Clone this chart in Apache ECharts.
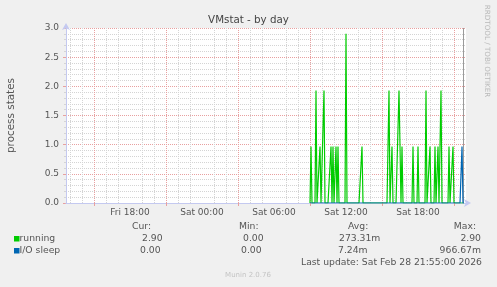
<!DOCTYPE html>
<html><head><meta charset="utf-8">
<script src="https://cdn.jsdelivr.net/npm/echarts@6/dist/echarts.min.js"></script>
<style>html,body{margin:0;padding:0;background:#f0f0f0}#c{width:497px;height:287px}</style>
</head><body><div id="c"></div>
<script>
// ---- data (hours counted from Fri 00:00) ----
const seriesNames = ['running', 'I/O sleep'];
const seriesColors = ['#00cc00', '#0066b3'];
const startHour = 33;          // first sample: Sat 09:00
const stepHours = 5 / 60;      // 5-minute samples
const running = [
  0, 0.97, 0, 0, 0, 0, 1.93, 0, 0, 0, 0.97, 0,
  0, 0, 1.93, 0, 0, 0, 0, 0, 0, 0.97, 0, 0.97,
  0, 0, 0.97, 0, 0.97, 0, 0, 0, 0, 0, 0, 0,
  2.90, 0, 0, 0, 0, 0, 0, 0, 0, 0, 0, 0,
  0, 0, 0, 0, 0.97, 0, 0, 0, 0, 0, 0, 0,
  0, 0, 0, 0, 0, 0, 0, 0, 0, 0, 0, 0,
  0, 0, 0, 0, 0, 0, 0, 1.93, 0, 0, 0.97, 0,
  0, 0, 0, 0, 0, 1.93, 1.93, 0, 0.97, 0, 0, 0,
  0, 0, 0, 0, 0, 0, 0, 0.97, 0, 0, 0, 0,
  0.97, 0, 0, 0, 0, 0, 0, 0, 1.93, 0, 0, 0,
  0.97, 0, 0, 0, 0, 0.97, 0, 0, 0.97, 0, 0, 1.93,
  0, 0, 0, 0, 0, 0, 0, 0.97, 0, 0, 0, 0.97,
  0, 0, 0, 0, 0, 0, 0, 0, 0, 0, 0
];
const ioSleep = [
  0, 0, 0, 0, 0, 0, 0, 0, 0, 0, 0, 0,
  0, 0, 0, 0, 0, 0, 0, 0, 0, 0, 0, 0,
  0, 0, 0, 0, 0, 0, 0, 0, 0, 0, 0, 0,
  0, 0, 0, 0, 0, 0, 0, 0, 0, 0, 0, 0,
  0, 0, 0, 0, 0, 0, 0, 0, 0, 0, 0, 0,
  0, 0, 0, 0, 0, 0, 0, 0, 0, 0, 0, 0,
  0, 0, 0, 0, 0, 0, 0, 0, 0, 0, 0, 0,
  0, 0, 0, 0, 0, 0, 0, 0, 0, 0, 0, 0,
  0, 0, 0, 0, 0, 0, 0, 0, 0, 0, 0, 0,
  0, 0, 0, 0, 0, 0, 0, 0, 0, 0, 0, 0,
  0, 0, 0, 0, 0, 0, 0, 0, 0, 0, 0, 0,
  0, 0, 0, 0, 0, 0, 0, 0, 0, 0, 0, 0,
  0, 0, 0, 0, 0, 0, 0, 0, 0.97, 0, 0
];
const xMin = 12 + 40 / 60;     // Fri 12:40
const xMax = 46;               // Sat 22:00
const xLabelHours = [18, 24, 30, 36, 42];
const xLabelText = ['Fri 18:00', 'Sat 00:00', 'Sat 06:00', 'Sat 12:00', 'Sat 18:00'];
const majorGridHours = [15, 21, 27, 33, 39, 45];
const minorGridHours = [13, 14, 16, 17, 19, 20, 22, 23, 25, 26, 28, 29, 31, 32, 34, 35, 37, 38, 40, 41, 43, 44];
const nowMarkerHour = [45.8];
const yMin = 0, yMax = 3, yStep = 0.5;
const statHeaders = ['Cur:', 'Min:', 'Avg:', 'Max:'];
const statsRunning = ['2.90', '0.00', '273.31m', '2.90'];
const statsIo = ['0.00', '0.00', '7.24m', '966.67m'];
const lastUpdate = 'Last update: Sat Feb 28 21:55:00 2026';
const titleText = 'VMstat - by day';
const yName = 'process states';
const vendorText = 'RRDTOOL / TOBI OETIKER';
const footerText = 'Munin 2.0.76';

// ---- chart ----
const FONT = 'DejaVu Sans';
const TXT = '#555';
const AXIS = '#c4c9f0';
const MAJ = '#e8a0a0';
const MIN = '#d4d4d4';
const chart = echarts.init(document.getElementById('c'), null, {renderer: 'canvas'});

const toPairs = arr => arr.map((v, i) => [startHour + i * stepHours, v]);

const font = px => px + 'px "' + FONT + '"';
const headerX = [132, 239, 348];
const colLeftX = [[142, 243, 339], [140, 241, 338]];
const lastColRight = 481;
const rowY = [239, 251];
const graphics = [];
statHeaders.forEach((h, i) => {
  graphics.push({type: 'text', x: i < 3 ? headerX[i] : 476, y: 227,
    style: {text: h, fill: TXT, font: font(9.25), align: i < 3 ? 'left' : 'right', verticalAlign: 'middle'}});
});
[statsRunning, statsIo].forEach((row, r) => {
  graphics.push({type: 'rect', shape: {x: 14, y: rowY[r] - 3, width: 5.5, height: 5.5},
    style: {fill: seriesColors[r]}});
  graphics.push({type: 'text', x: 19.5, y: rowY[r],
    style: {text: seriesNames[r], fill: TXT, font: font(9.25), align: 'left', verticalAlign: 'middle'}});
  row.forEach((s, i) => {
    graphics.push({type: 'text', x: i < 3 ? colLeftX[r][i] : lastColRight, y: rowY[r],
      style: {text: s, fill: TXT, font: font(9.25), align: i < 3 ? 'left' : 'right', verticalAlign: 'middle'}});
  });
});
graphics.push({type: 'text', x: 482, y: 263,
  style: {text: lastUpdate, fill: TXT, font: font(9.25), align: 'right', verticalAlign: 'middle'}});
graphics.push({type: 'text', x: 248, y: 275,
  style: {text: footerText, fill: '#c4c4c4', font: font(7), align: 'center', verticalAlign: 'middle'}});
graphics.push({type: 'text', x: 487, y: 51, rotation: -Math.PI / 2,
  style: {text: vendorText, fill: '#b9b9b9', font: font(7.2), align: 'center', verticalAlign: 'middle'}});

chart.setOption({
  animation: false,
  backgroundColor: '#f0f0f0',
  textStyle: {fontFamily: FONT},
  title: {text: titleText, left: 'center', top: 15, padding: 0,
    textStyle: {fontSize: 10.3, fontWeight: 'normal', color: '#444', fontFamily: FONT}},
  grid: {left: 66, right: 31, top: 28, bottom: 84, show: true, backgroundColor: '#ffffff', borderWidth: 0,
    containLabel: false, outerBoundsMode: 'none'},
  xAxis: [{
    type: 'value', min: xMin, max: xMax,
    axisLine: {show: true, lineStyle: {color: AXIS}, symbol: ['none', 'arrow'], symbolSize: [6, 7], symbolOffset: [0, 5]},
    axisTick: {show: true, customValues: majorGridHours, length: 3, lineStyle: {color: MAJ}},
    axisLabel: {show: true, customValues: xLabelHours, margin: 5, fontSize: 9, color: TXT, fontFamily: FONT,
      formatter: v => xLabelText[xLabelHours.indexOf(v)] || ''},
    splitLine: {show: true, lineStyle: {color: MAJ, type: [1, 1], width: 1}},
    z: 3
  }, {
    type: 'value', min: xMin, max: xMax, position: 'bottom',
    axisLine: {show: false},
    axisTick: {show: false, customValues: minorGridHours},
    axisLabel: {show: false},
    splitLine: {show: true, lineStyle: {color: MIN, type: [1, 1], width: 1}},
    z: 2
  }],
  yAxis: {
    type: 'value', min: yMin, max: yMax, interval: yStep,
    name: yName, nameLocation: 'middle', nameGap: 50, nameRotate: 90,
    nameTextStyle: {fontSize: 10.4, color: TXT, fontFamily: FONT},
    axisLine: {show: true, lineStyle: {color: AXIS}, symbol: ['none', 'arrow'], symbolSize: [6, 7], symbolOffset: [0, 5]},
    axisTick: {show: true, length: 3, lineStyle: {color: MAJ}},
    minorTick: {show: true, splitNumber: 5, length: 2, lineStyle: {color: MIN}},
    axisLabel: {formatter: v => v.toFixed(1), fontSize: 9, color: TXT, margin: 7, fontFamily: FONT},
    splitLine: {show: true, lineStyle: {color: MAJ, type: [1, 1], width: 1}},
    minorSplitLine: {show: true, lineStyle: {color: MIN, type: [1, 1], width: 1}}
  },
  series: [{
    name: seriesNames[0], type: 'line', data: toPairs(running), showSymbol: false, symbol: 'none',
    color: seriesColors[0], lineStyle: {width: 1.2, color: seriesColors[0]}, z: 4,
    markLine: {silent: true, symbol: ['none', 'none'], label: {show: false},
      lineStyle: {color: '#9a9a9a', type: 'solid', width: 1},
      data: nowMarkerHour.map(h => ({xAxis: h}))}
  }, {
    name: seriesNames[1], type: 'line', data: toPairs(ioSleep), showSymbol: false, symbol: 'none',
    color: seriesColors[1], lineStyle: {width: 1.2, color: seriesColors[1]}, z: 5
  }],
  graphic: graphics
});
</script></body></html>
